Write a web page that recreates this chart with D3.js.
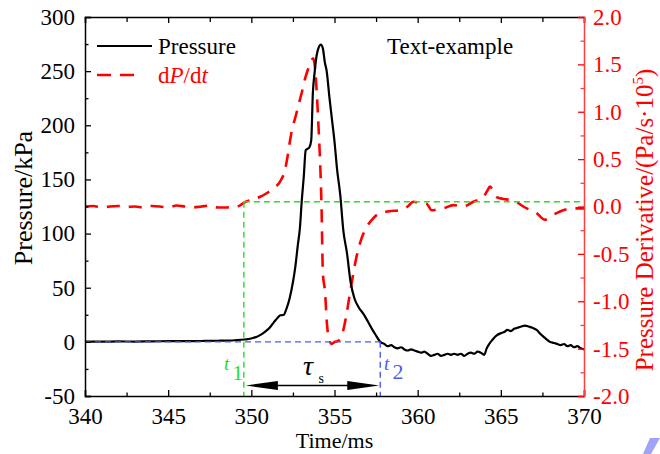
<!DOCTYPE html>
<html><head><meta charset="utf-8">
<script src="https://cdn.jsdelivr.net/npm/d3@7"></script>
<style>
html,body{margin:0;padding:0;background:#fff;}
svg{display:block;font-family:"Liberation Serif","Times New Roman",serif;}
</style></head>
<body><svg id="c" width="660" height="454"></svg>
<script>
// ---- data ----
const pressureTime = [340,341,342,343,344,345,346,347,348,349,349.6,350.1,350.5,350.8,351.1,351.35,351.6,351.75,351.95,352.1,352.3,352.5,352.65,352.8,352.92,353.03,353.15,353.27,353.35,353.5,353.6,353.7,353.8,353.92,354.05,354.18,354.3,354.42,354.53,354.7,354.85,355.0,355.15,355.35,355.53,355.75,355.97,356.2,356.45,356.73,357.0,357.25,357.45,357.75,358.0,358.2,358.4,358.6,358.8,359.0,359.2,359.4,359.6,359.8,360.0,360.2,360.4,360.6,360.8,361.0,361.2,361.4,361.6,361.8,362.0,362.2,362.4,362.6,362.8,363.0,363.2,363.4,363.6,363.8,364.0,364.15,364.3,364.5,364.75,365.0,365.2,365.4,365.6,365.8,366.0,366.2,366.45,366.7,366.9,367.15,367.4,367.7,367.95,368.2,368.4,368.6,368.8,369.0,369.2,369.4,369.6,369.8,370];
const pressureValue = [0.3,0.2,0.4,0.3,0.5,0.6,0.7,0.8,1.0,1.5,2.2,3.5,6,9,13,18,22.5,24.5,25,30,40,55,70,90,105,130,152,177,178,180,186,230,248,264,272,274.5,271,258,250,225,205,185,160,135,103,82,55,40,32,26,19,12,7,0,-2,-4,-3,-5,-6,-5,-7,-8,-7,-8,-9,-10,-9,-11,-13,-12,-11,-13,-12,-11,-12,-11,-12,-11,-13,-11,-10,-11,-9,-10,-12,-6,-2,2,6,8,9,11,10,12,13,14,15,14,13,11,7,3,0,-1,-2,-3,-2,-4,-3,-5,-4,-6,-7];
const derivTime = [340,340.5,341,341.5,342,342.5,343,343.5,344,344.5,345,345.5,346,346.5,347,347.5,348,348.5,349,349.3,349.6,350.0,350.5,350.92,351.3,351.72,352.02,352.2,352.35,352.5,352.63,352.85,353.03,353.23,353.43,353.63,353.73,353.83,353.95,354.05,354.15,354.22,354.3,354.43,354.55,354.65,354.83,355.0,355.2,355.4,355.55,355.73,355.85,356.03,356.3,356.6,356.83,357.2,357.73,358.3,358.94,359.4,359.74,360.1,360.54,360.84,361.2,361.54,362.14,362.75,363.35,363.95,364.2,364.35,364.55,364.75,365.15,365.55,366.0,366.35,366.8,367.15,367.65,367.95,368.35,368.75,369.35,370];
const derivValue = [0.0,0.005,-0.01,0.0,0.005,-0.005,0.0,-0.01,0.005,0.0,-0.01,0.01,0.0,-0.01,0.0,0.01,-0.01,-0.01,-0.005,0.01,0.045,0.07,0.10,0.14,0.19,0.26,0.385,0.55,0.72,0.85,0.93,1.08,1.2,1.35,1.46,1.55,1.565,1.46,1.15,0.8,0.4,0.0,-0.7,-0.9,-1.25,-1.38,-1.45,-1.43,-1.42,-1.38,-1.29,-1.13,-1.0,-0.81,-0.55,-0.35,-0.25,-0.15,-0.07,-0.05,-0.04,0.0,0.05,0.04,0.03,-0.04,-0.03,-0.02,0.015,0.0,0.05,0.10,0.17,0.21,0.16,0.10,0.08,0.07,0.04,0.0,-0.04,-0.07,-0.14,-0.11,-0.07,-0.04,-0.02,-0.02];
const xTicks = [340,345,350,355,360,365,370];
const leftTicks = [-50,0,50,100,150,200,250,300];
const rightTicks = [-2.0,-1.5,-1.0,-0.5,0.0,0.5,1.0,1.5,2.0];
const markerTimes = [349.55, 357.75];   // t1, t2
const thresholdDeriv = [0.05];          // green threshold on derivative axis
const legendLabels = ["Pressure", "dP/dt"];
const noteText = ["Text-example"];

// ---- layout ----
const svg = d3.select("#c");
const L = 85, R = 584, T = 17, B = 396;
const x = d3.scaleLinear([340,370],[L,R]);
const yL = d3.scaleLinear([-50,300],[B,T]);
const yR = d3.scaleLinear([-2,2],[B,T]);
const RED = "#ff0000", GREEN = "#22e022", BLUE = "#4a5cf5";

const pData = pressureTime.map((t,i)=>[t,pressureValue[i]]);
const dData = derivTime.map((t,i)=>[t,derivValue[i]]);

// curves
svg.append("path").datum(dData)
  .attr("d", d3.line().x(d=>x(d[0])).y(d=>yR(d[1])).curve(d3.curveMonotoneX))
  .attr("fill","none").attr("stroke",RED).attr("stroke-width",2.6)
  .attr("stroke-dasharray","13,9");
svg.append("path").datum(pData)
  .attr("d", d3.line().x(d=>x(d[0])).y(d=>yL(d[1])).curve(d3.curveMonotoneX))
  .attr("fill","none").attr("stroke","#000").attr("stroke-width",2.2)
  .attr("stroke-linejoin","round");

// annotation lines
const t1 = markerTimes[0], t2 = markerTimes[1];
svg.append("line").attr("x1",x(t1)).attr("x2",R).attr("y1",yR(thresholdDeriv[0])).attr("y2",yR(thresholdDeriv[0]))
  .attr("stroke",GREEN).attr("stroke-width",1.4).attr("stroke-dasharray","6,4");
svg.append("line").attr("x1",x(t1)).attr("x2",x(t1)).attr("y1",yR(thresholdDeriv[0])).attr("y2",B)
  .attr("stroke",GREEN).attr("stroke-width",1.4).attr("stroke-dasharray","6,4");
svg.append("line").attr("x1",L).attr("x2",x(t2)).attr("y1",yL(0)).attr("y2",yL(0))
  .attr("stroke",BLUE).attr("stroke-width",1.4).attr("stroke-dasharray","6,4");
svg.append("line").attr("x1",x(t2)).attr("x2",x(t2)).attr("y1",yL(0)).attr("y2",B)
  .attr("stroke",BLUE).attr("stroke-width",1.4).attr("stroke-dasharray","6,4");

// double arrow
const ay = 385.5, ax1 = x(t1)+2, ax2 = x(t2)-1;
svg.append("line").attr("x1",ax1+20).attr("x2",ax2-20).attr("y1",ay).attr("y2",ay).attr("stroke","#000").attr("stroke-width",1.4);
svg.append("path").attr("d",`M${ax1},${ay}L${ax1+32},${ay-4.5}L${ax1+32},${ay+4.5}Z`).attr("fill","#000");
svg.append("path").attr("d",`M${ax2},${ay}L${ax2-32},${ay-4.5}L${ax2-32},${ay+4.5}Z`).attr("fill","#000");

// axes
function styleAxis(g,color){
  g.attr("font-family",null);
  g.selectAll(".domain").attr("stroke",color).attr("stroke-width",1.5);
  g.selectAll(".tick line").attr("stroke",color).attr("stroke-width",1.3);
  g.selectAll("text").attr("fill",color).attr("font-size",23);
}
const minorX = d3.range(342.5,370,5);
const minorL = d3.range(-25,300,50);
const minorR = d3.range(-1.75,2,0.5);

let g;
g = svg.append("g").attr("transform",`translate(0,${B})`)
  .call(d3.axisBottom(x).tickValues(xTicks).tickSize(-6).tickPadding(12).tickFormat(d=>String(d)));
styleAxis(g,"#000");
g = svg.append("g").attr("transform",`translate(0,${B})`)
  .call(d3.axisBottom(x).tickValues(minorX).tickSize(-3.5).tickFormat(""));
styleAxis(g,"#000"); g.select(".domain").remove();
g = svg.append("g").attr("transform",`translate(0,${T})`)
  .call(d3.axisTop(x).tickValues(xTicks).tickSize(-6).tickFormat(""));
styleAxis(g,"#000");
g = svg.append("g").attr("transform",`translate(0,${T})`)
  .call(d3.axisTop(x).tickValues(minorX).tickSize(-5).tickFormat(""));
styleAxis(g,"#000"); g.select(".domain").remove();

g = svg.append("g").attr("transform",`translate(${L},0)`)
  .call(d3.axisLeft(yL).tickValues(leftTicks).tickSize(-6).tickPadding(10).tickFormat(d=>String(d)));
styleAxis(g,"#000");
g = svg.append("g").attr("transform",`translate(${L},0)`)
  .call(d3.axisLeft(yL).tickValues(minorL).tickSize(-3.5).tickFormat(""));
styleAxis(g,"#000"); g.select(".domain").remove();

g = svg.append("g").attr("transform",`translate(${R},0)`)
  .call(d3.axisRight(yR).tickValues(rightTicks).tickSize(-6).tickPadding(9).tickFormat(d=>d.toFixed(1)));
styleAxis(g,RED); g.select(".domain").attr("stroke","#ff4040");
g = svg.append("g").attr("transform",`translate(${R},0)`)
  .call(d3.axisRight(yR).tickValues(minorR).tickSize(-3.5).tickFormat(""));
styleAxis(g,"#ff4040"); g.select(".domain").remove();

// axis titles
svg.append("text").attr("x",(L+R)/2).attr("y",448).attr("text-anchor","middle")
  .attr("font-size",22).attr("fill","#000").text("Time/ms");
svg.append("text").attr("transform","translate(32,198) rotate(-90)").attr("text-anchor","middle")
  .attr("font-size",26).attr("fill","#000").text("Pressure/kPa");
const rt = svg.append("text").attr("transform","translate(653,220) rotate(-90)").attr("text-anchor","middle")
  .attr("font-size",25).attr("fill",RED);
rt.append("tspan").text("Pressure Derivative/(Pa/s·10");
rt.append("tspan").attr("font-size",15).attr("dy",-10).text("5");
rt.append("tspan").attr("dy",10).text(")");

// legend
svg.append("line").attr("x1",97).attr("x2",152).attr("y1",46).attr("y2",46).attr("stroke","#000").attr("stroke-width",2.2);
svg.append("text").attr("x",158).attr("y",54).attr("font-size",23).attr("fill","#000").text(legendLabels[0]);
svg.append("line").attr("x1",97).attr("x2",140).attr("y1",75).attr("y2",75).attr("stroke",RED).attr("stroke-width",2.6).attr("stroke-dasharray","14,9");
const lg = svg.append("text").attr("x",158).attr("y",83).attr("font-size",23).attr("fill",RED);
lg.append("tspan").text("d");
lg.append("tspan").attr("font-style","italic").text("P");
lg.append("tspan").text("/d");
lg.append("tspan").attr("font-style","italic").text("t");

svg.append("text").attr("x",387).attr("y",54).attr("font-size",23).attr("fill","#000").text(noteText[0]);

// tau_s label
svg.append("text").attr("x",303).attr("y",375).attr("font-size",28).attr("font-style","italic").attr("fill","#000").text("τ");
svg.append("text").attr("x",318.5).attr("y",383).attr("font-size",14).attr("fill","#000").text("s");
// t1, t2 labels
svg.append("text").attr("x",224).attr("y",370).attr("font-size",19).attr("font-style","italic").attr("fill",GREEN).text("t");
svg.append("text").attr("x",232.5).attr("y",380).attr("font-size",21).attr("fill",GREEN).text("1");
svg.append("text").attr("x",384).attr("y",370).attr("font-size",19).attr("font-style","italic").attr("fill",BLUE).text("t");
svg.append("text").attr("x",392.5).attr("y",379).attr("font-size",22).attr("fill",BLUE).text("2");

// small mark in corner
svg.append("path").attr("d","M650,438L660,438L651,454L643,454Z").attr("fill","#a0a4f6");
</script></body></html>
